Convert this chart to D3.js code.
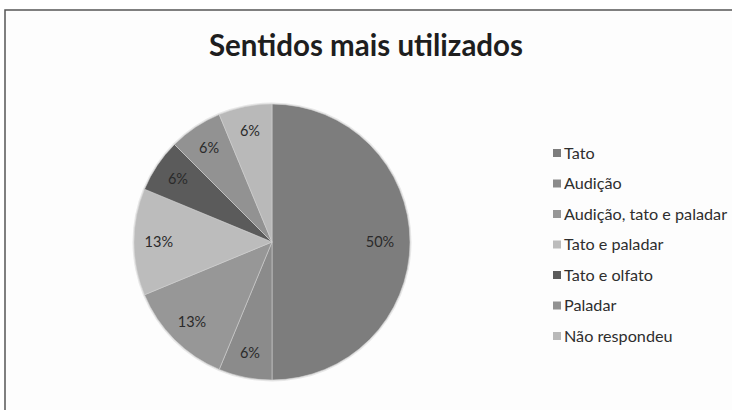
<!DOCTYPE html>
<html>
<head>
<script src="https://d3js.org/d3.v7.min.js"></script>
<style>
  body { margin:0; background:#fff; font-family: Lato, "Open Sans", sans-serif; }
</style>
</head>
<body>
<div id="chart"></div>
<script>
// data: counts out of 16 respondents
var categories = ["Tato","Audição","Audição, tato e paladar","Tato e paladar","Tato e olfato","Paladar","Não respondeu"]
var counts = [8,1,2,2,1,1,1]
var colors = ["#7d7d7d","#8b8b8b","#979797","#bcbcbc","#5b5b5b","#929292","#b9b9b9"]

var width = 732, height = 410
var cx = 272, cy = 242, radius = 138

var svg = d3.select("#chart").append("svg")
    .attr("width", width).attr("height", height)

svg.append("rect").attr("width", width).attr("height", height).attr("fill", "#fff")
// chart frame (cut at right and bottom)
svg.append("rect").attr("x", 5).attr("y", 10).attr("width", 740).attr("height", 420)
    .attr("fill", "#fdfdfd").attr("stroke", "#555").attr("stroke-width", 1.5)

svg.append("text").text("Sentidos mais utilizados")
    .attr("x", 366).attr("y", 56)
    .attr("text-anchor", "middle")
    .attr("font-size", 29.5).attr("font-weight", "bold").attr("fill", "#1e1e1e")

var data = categories.map(function(c,i){ return {name:c, value:counts[i], color:colors[i]} })
var total = d3.sum(counts)

var pie = d3.pie().sort(null).value(function(d){ return d.value })
var arc = d3.arc().innerRadius(0).outerRadius(radius)
var labelArc = d3.arc().innerRadius(radius*0.82).outerRadius(radius*0.82)

var g = svg.append("g").attr("transform", "translate(" + cx + "," + cy + ")")

g.append("circle").attr("r", radius + 1.5).attr("fill", "#d9d9d9").attr("opacity", 0.6)

var slices = g.selectAll("g.slice").data(pie(data)).enter().append("g").attr("class","slice")
slices.append("path")
    .attr("d", arc)
    .attr("fill", function(d){ return d.data.color })
    .attr("stroke", "#d0d0d0").attr("stroke-width", 0.6)

slices.append("text")
    .attr("transform", function(d){
        var c = labelArc.centroid(d)
        if (d.data.value / total >= 0.5) c = [108, 0]
        return "translate(" + c + ")"
    })
    .attr("dy", "0.35em")
    .attr("text-anchor", "middle")
    .attr("font-size", 14.5).attr("fill", "#2a2a2a")
    .text(function(d){ return Math.round(d.data.value / total * 100) + "%" })

// legend
var ly = d3.scalePoint().domain(categories).range([153, 336])
var legend = svg.selectAll("g.leg").data(data).enter().append("g").attr("class","leg")
    .attr("transform", function(d){ return "translate(553," + ly(d.name) + ")" })
legend.append("rect").attr("x", 0).attr("y", -4).attr("width", 8).attr("height", 8)
    .attr("fill", function(d){ return d.color })
legend.append("text").attr("x", 11).attr("dy", "0.35em")
    .attr("font-size", 16.2).attr("fill", "#2e2e2e")
    .text(function(d){ return d.name })
</script>
</body>
</html>
